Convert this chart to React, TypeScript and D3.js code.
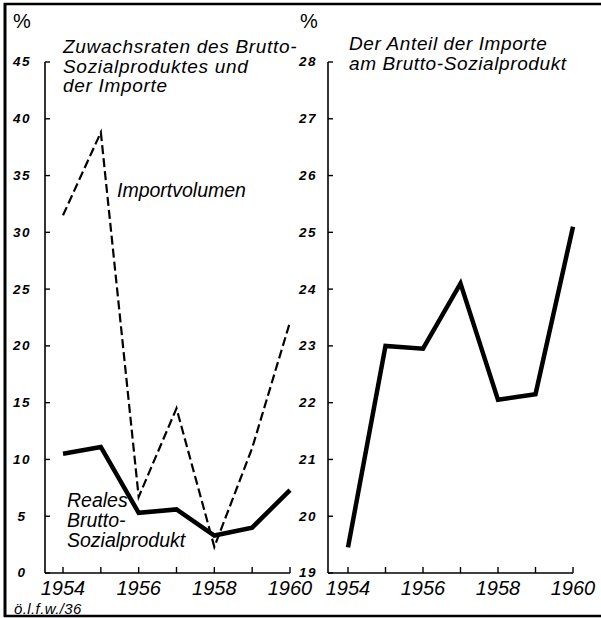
import React from 'react';
import * as d3 from 'd3';

const years = [1954, 1955, 1956, 1957, 1958, 1959, 1960];
const yearLabels = [1954, 1956, 1958, 1960];
const bspGrowth = [10.5, 11.1, 5.3, 5.6, 3.3, 4.0, 7.3];
const importGrowth = [31.5, 38.8, 6.7, 14.5, 2.3, 11.0, 22.1];
const importShare = [19.45, 23.0, 22.95, 24.1, 22.05, 22.15, 25.1];
const leftTicks = [0, 5, 10, 15, 20, 25, 30, 35, 40, 45];
const rightTicks = [19, 20, 21, 22, 23, 24, 25, 26, 27, 28];

const leftTitle = ['Zuwachsraten des Brutto-', 'Sozialproduktes und', 'der Importe'];
const rightTitle = ['Der Anteil der Importe', 'am Brutto-Sozialprodukt'];
const bspLabel = ['Reales', 'Brutto-', 'Sozialprodukt'];

const FONT = '"Liberation Sans", Arial, sans-serif';

const App: React.FC = () => {
  const baseY = 573;
  const topY = 62;

  const xL = d3.scaleLinear().domain([1954, 1960]).range([63, 290]);
  const yL = d3.scaleLinear().domain([0, 45]).range([baseY, topY]);
  const xR = d3.scaleLinear().domain([1954, 1960]).range([348, 573]);
  const yR = d3.scaleLinear().domain([19, 28]).range([baseY, topY]);

  const lineL = (vals: number[]) =>
    d3.line<number>().x((_, i) => xL(years[i])).y(d => yL(d))(vals) || '';
  const lineR = d3.line<number>().x((_, i) => xR(years[i])).y(d => yR(d))(importShare) || '';

  const panel = (
    axisX: number,
    x: d3.ScaleLinear<number, number>,
    y: d3.ScaleLinear<number, number>,
    ticks: number[],
    labelX: number,
    endX: number
  ) => (
    <g>
      <line x1={axisX} x2={axisX} y1={baseY} y2={topY} stroke="#000" strokeWidth={1.6} />
      <line x1={axisX} x2={endX} y1={baseY} y2={baseY} stroke="#000" strokeWidth={1.6} />
      {ticks.map(t => (
        <g key={t}>
          <line x1={axisX} x2={axisX + 5} y1={y(t)} y2={y(t)} stroke="#000" strokeWidth={1.4} />
          <text x={labelX} y={y(t)} dy="0.33em" textAnchor="middle" fontSize={13.5}
            fontWeight="bold" fontStyle="italic" letterSpacing={1.5} fontFamily={FONT}>{t}</text>
        </g>
      ))}
      {years.map(yr => (
        <line key={yr} x1={x(yr)} x2={x(yr)} y1={baseY} y2={baseY - 6} stroke="#000" strokeWidth={1.4} />
      ))}
      {yearLabels.map(yr => (
        <text key={yr} x={x(yr)} y={baseY + 22} textAnchor="middle" fontSize={20}
          fontStyle="italic" fontFamily={FONT}>{yr}</text>
      ))}
    </g>
  );

  return (
    <svg width={601} height={618} style={{ position: 'absolute', left: 0, top: 0, background: '#fff' }}>
      {/* frame */}
      <line x1={5} x2={5} y1={3} y2={617} stroke="#000" strokeWidth={3} />
      <line x1={4} x2={601} y1={4} y2={4} stroke="#000" strokeWidth={2.5} />
      <line x1={4} x2={601} y1={616} y2={616} stroke="#000" strokeWidth={2.5} />

      {/* left panel */}
      <text x={13} y={28} fontSize={20} fontFamily={FONT}>%</text>
      {panel(45, xL, yL, leftTicks, 22, 290)}
      {leftTitle.map((t, i) => (
        <text key={t} x={63} y={53 + i * 19.5} fontSize={19} fontStyle="italic"
          letterSpacing={0.7} fontFamily={FONT}>{t}</text>
      ))}
      <path d={lineL(importGrowth)} fill="none" stroke="#000" strokeWidth={2.2} strokeDasharray="9,4" />
      <path d={lineL(bspGrowth)} fill="none" stroke="#000" strokeWidth={4.5} strokeLinejoin="miter" />
      <text x={117} y={197} fontSize={19.5} fontStyle="italic" fontFamily={FONT}>Importvolumen</text>
      {bspLabel.map((t, i) => (
        <text key={t} x={67} y={507 + i * 20} fontSize={19.5} fontStyle="italic" fontFamily={FONT}>{t}</text>
      ))}
      <text x={14} y={614} fontSize={15} fontStyle="italic" letterSpacing={0.4} fontFamily={FONT}>ö.l.f.w./36</text>

      {/* right panel */}
      <text x={300} y={28} fontSize={20} fontFamily={FONT}>%</text>
      {panel(328, xR, yR, rightTicks, 308, 573)}
      {rightTitle.map((t, i) => (
        <text key={t} x={349} y={50 + i * 19.5} fontSize={19} fontStyle="italic"
          letterSpacing={0.6} fontFamily={FONT}>{t}</text>
      ))}
      <path d={lineR} fill="none" stroke="#000" strokeWidth={4.5} strokeLinejoin="miter" />
    </svg>
  );
};

export default App;
